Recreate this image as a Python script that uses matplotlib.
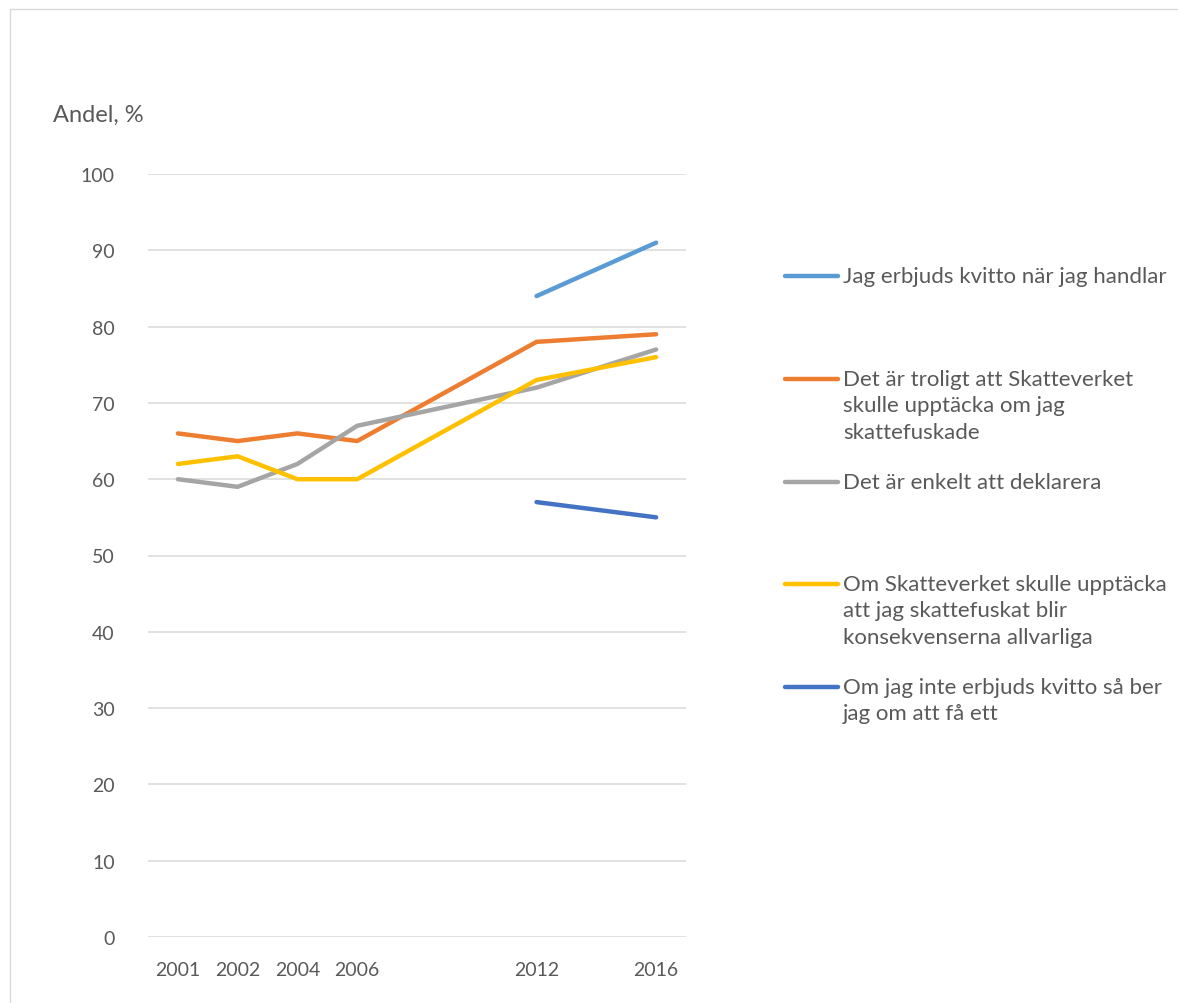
import numpy as np
import pandas as pd
import matplotlib.pyplot as plt
from matplotlib.lines import Line2D
from matplotlib.patches import Rectangle

plt.rcParams["font.family"] = ["Lato", "DejaVu Sans"]

TEXT = "#595959"

# Kategorier (tomma kategorier ger luckor på x-axeln, som i originalet)
years = ["2001", "2002", "2004", "2006", "", "", "2012", "", "2016"]

kvitto_erbjuds = [None, None, None, None, None, None, 84, None, 91]
troligt_upptacka = [66, 65, 66, 65, None, None, 78, None, 79]
enkelt_deklarera = [60, 59, 62, 67, None, None, 72, None, 77]
konsekvenser = [62, 63, 60, 60, None, None, 73, None, 76]
ber_om_kvitto = [None, None, None, None, None, None, 57, None, 55]

labels = [
    "Jag erbjuds kvitto när jag handlar",
    "Det är troligt att Skatteverket\nskulle upptäcka om jag\nskattefuskade",
    "Det är enkelt att deklarera",
    "Om Skatteverket skulle upptäcka\natt jag skattefuskat blir\nkonsekvenserna allvarliga",
    "Om jag inte erbjuds kvitto så ber\njag om att få ett",
]
series = [kvitto_erbjuds, troligt_upptacka, enkelt_deklarera, konsekvenser, ber_om_kvitto]
colors = ["#5B9BD5", "#ED7D31", "#A5A5A5", "#FFC000", "#4472C4"]
# legendens radpositioner (y i pixlar uppifrån)
legend_y = [277, 380, 483, 585, 688]

W, H = 1178, 1004
fig = plt.figure(figsize=(W / 100, H / 100), dpi=100)
fig.patches.append(Rectangle((10 / W, -0.1), 1.2, 1.1 - 10 / H,
                             transform=fig.transFigure, fill=False,
                             edgecolor="#D9D9D9", lw=1.0))

ax = fig.add_axes([148 / W, 1 - 938 / H, (686 - 148) / W, (938 - 175) / H])

x = np.arange(len(years))
for vals, c in zip(series, colors):
    s = pd.Series(vals, index=x, dtype=float).dropna()
    ax.plot(s.index, s.values, color=c, lw=3.2, solid_capstyle="round",
            solid_joinstyle="round", zorder=3)

ax.set_xlim(-0.5, len(years) - 0.5)
ax.set_ylim(0, 100)
ax.set_yticks(range(0, 101, 10))
ax.set_xticks(x)
ax.set_xticklabels(years)
ax.grid(axis="y", color="#D9D9D9", lw=1.1)
ax.set_axisbelow(True)
for sp in ax.spines.values():
    sp.set_visible(False)
ax.tick_params(length=0, labelsize=14, labelcolor=TEXT)
ax.tick_params(axis="y", pad=24)
ax.tick_params(axis="x", pad=17)

fig.text(53 / W, 1 - 115 / H, "Andel, %", fontsize=17, color=TEXT,
         ha="left", va="center")

# legend, manuellt placerad som i originalet
for lab, c, yy in zip(labels, colors, legend_y):
    yf = 1 - yy / H
    fig.add_artist(Line2D([785 / W, 838 / W], [yf, yf], transform=fig.transFigure,
                          color=c, lw=3.2, solid_capstyle="round"))
    fig.text(843 / W, yf + 10 / H, lab, fontsize=16, color=TEXT,
             ha="left", va="top", linespacing=1.4)

fig.savefig("out.png", dpi=100)
